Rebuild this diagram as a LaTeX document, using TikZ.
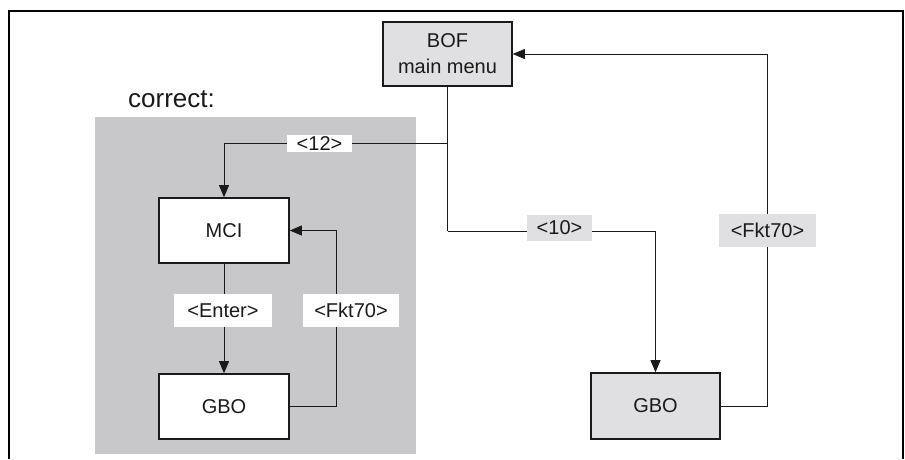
\documentclass[tikz,border=0pt]{standalone}
\usepackage{fontspec}
\setmainfont{Liberation Sans}
\usetikzlibrary{arrows.meta}
\definecolor{regiongray}{HTML}{C8C8CA}
\definecolor{boxgray}{HTML}{E0E0E2}
\definecolor{lineblack}{HTML}{1A1A1A}
\begin{document}
\begin{tikzpicture}[x=1pt,y=-1pt,
  box/.style={draw=lineblack, line width=1.6pt, minimum width=130pt, minimum height=65pt, inner sep=0pt, font=\fontsize{20}{26}\selectfont, align=center, text=lineblack},
  lbl/.style={inner sep=0pt, font=\fontsize{20}{22}\selectfont, text=lineblack},
  conn/.style={draw=lineblack, line width=0.9pt},
  arr/.style={conn, -{Triangle[length=12pt,width=10pt]}}]
\useasboundingbox (0,0) rectangle (905,459);
\fill[regiongray] (95,117) rectangle (416,454);
\draw[line width=2pt] (9,459) -- (9,11) -- (903,11) -- (903,459);
\node[font=\fontsize{26}{30}\selectfont, text=lineblack] (correct) at (171.5,99) {correct:};
% boxes
\node[box, fill=boxgray, minimum width=129pt, minimum height=64pt] (bof) at (447.5,54) {BOF\\main menu};
\node[box, fill=white] (mci) at (224,230.5) {MCI};
\node[box, fill=white] (gbol) at (224,406.5) {GBO};
\node[box, fill=boxgray, minimum width=129pt, minimum height=66pt] (gbor) at (655.5,406) {GBO};
% helper coordinates
\coordinate (j1) at (bof.south |- 0,143);
\coordinate (j2) at (bof.south |- 0,231);
\coordinate (k1) at (336,0);
\coordinate (k2) at (767,0);
% connectors
\draw[conn] (bof.south) -- (j2);
\draw[arr] (j1) -| (mci.north);
\draw[arr] (j2) -| (gbor.north);
\draw[arr] (mci.south) -- (gbol.north);
\draw[arr] (gbol.east) -- (gbol.east -| k1) |- (mci.east);
\draw[arr] (gbor.east) -- (gbor.east -| k2) |- (bof.east);
% labels
\node[lbl, fill=white, minimum width=65pt, minimum height=17pt] (l12) at (319.5,143.5) {<12>};
\node[lbl, fill=white, minimum width=98pt, minimum height=33pt] (lenter) at (223,310.5) {<Enter>};
\node[lbl, fill=white, minimum width=96pt, minimum height=33pt] (lfkl) at (351,310.5) {<Fkt70>};
\node[lbl, fill=boxgray, minimum width=65pt, minimum height=26pt] (l10) at (559.5,228) {<10>};
\node[lbl, fill=boxgray, minimum width=97pt, minimum height=33pt] (lfkr) at (767.5,230.5) {<Fkt70>};
\end{tikzpicture}
\end{document}
